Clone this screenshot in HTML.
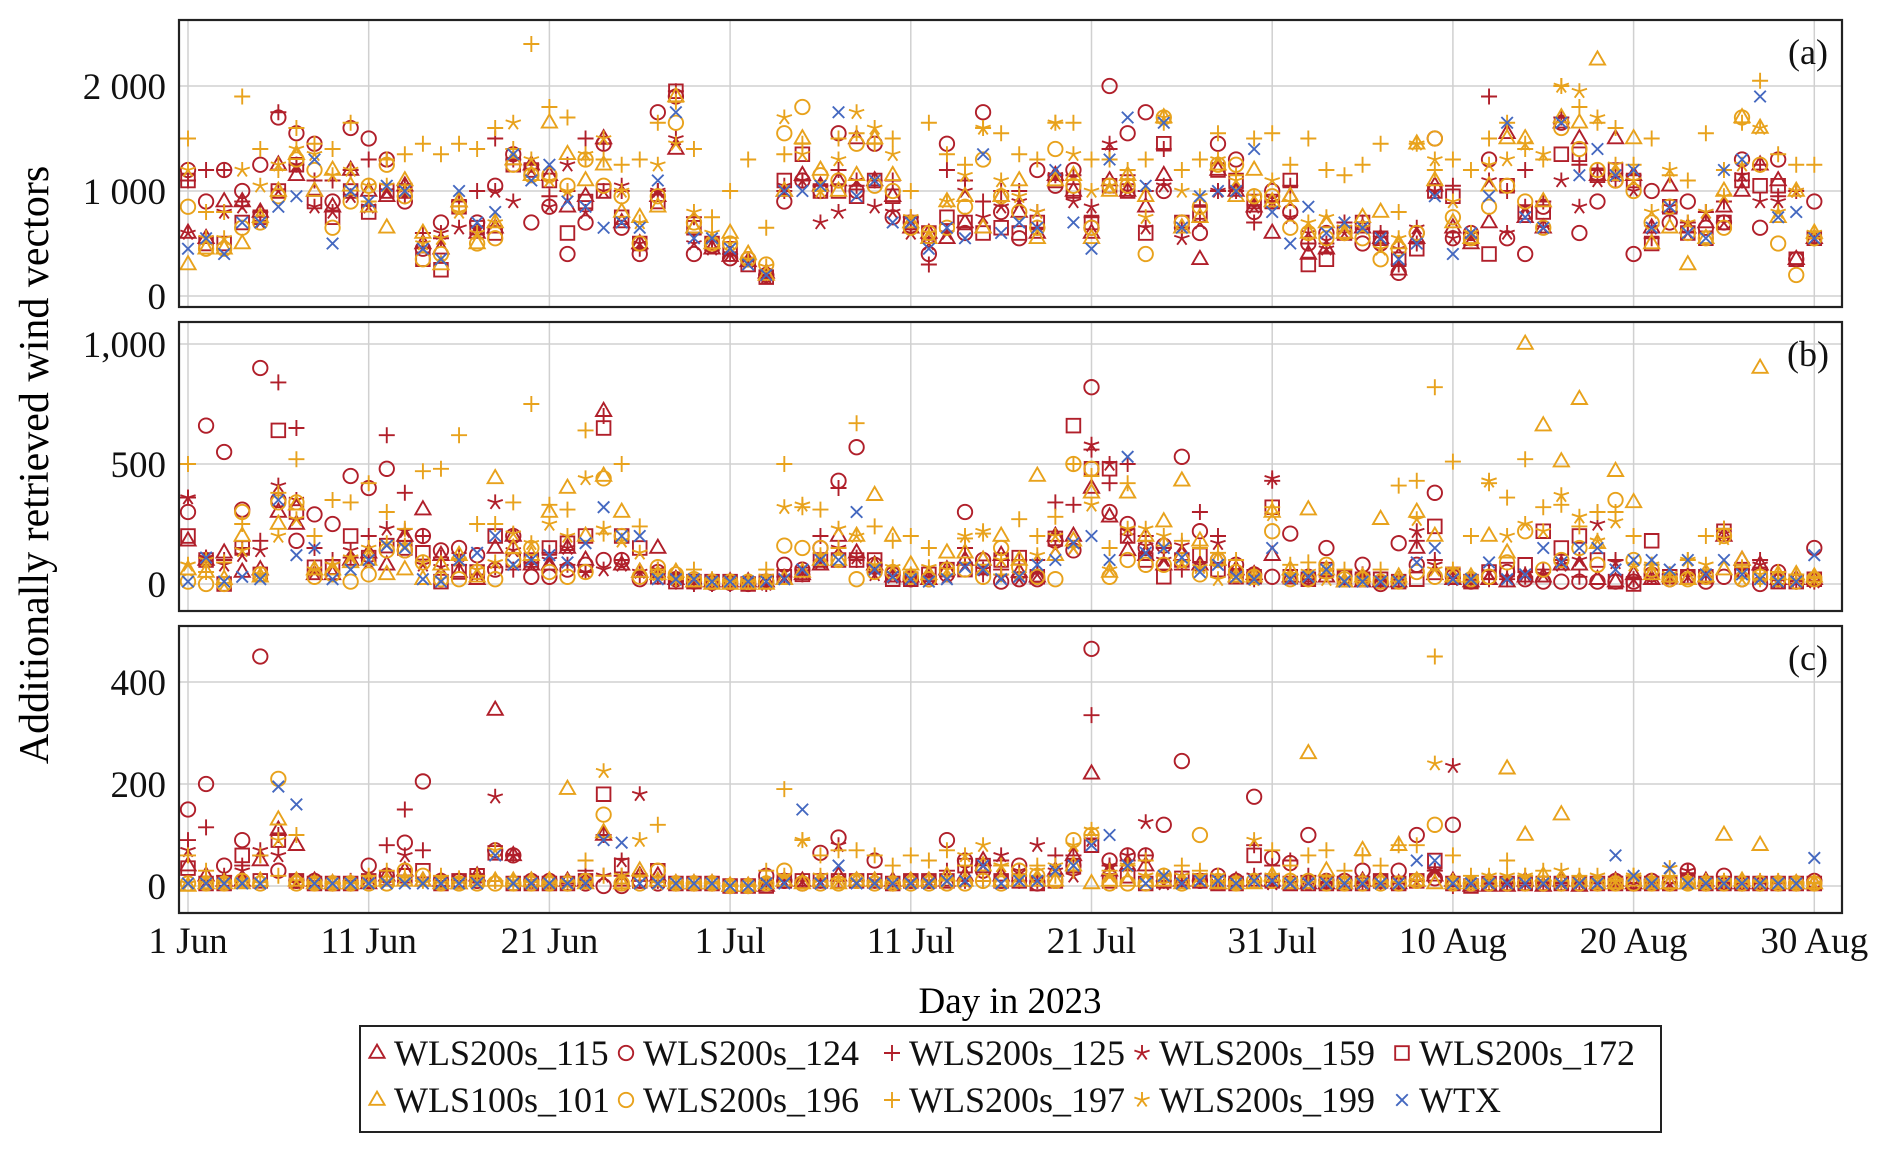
<!DOCTYPE html>
<html><head><meta charset="utf-8"><style>
html,body{margin:0;padding:0;background:#fff;}
svg{display:block;font-family:"Liberation Serif",serif;}
</style></head><body>
<svg id="chart" width="1892" height="1152" viewBox="0 0 1892 1152" xmlns="http://www.w3.org/2000/svg">
<g id="grid"></g><g id="marks"></g><g id="frames"></g><g id="labels"></g>
<text x="0" y="0" font-size="42" text-anchor="middle" transform="translate(48,465) rotate(-90)">Additionally retrieved wind vectors</text>
<text x="1010" y="1013" font-size="37" text-anchor="middle">Day in 2023</text>
<g id="legend"><rect x="360" y="1026" width="1301" height="106" fill="#fff" stroke="#222" stroke-width="2"/></g>
</svg>
<script>
const seriesNames=["WLS200s_115","WLS200s_124","WLS200s_125","WLS200s_159","WLS200s_172","WLS100s_101","WLS200s_196","WLS200s_197","WLS200s_199","WTX"];
const seriesColors=["#b01f2a","#b01f2a","#b01f2a","#b01f2a","#b01f2a","#e8a21c","#e8a21c","#e8a21c","#e8a21c","#4468c0"];
const seriesMarkers=["tri","circ","plus","star","sq","tri","circ","plus","star","x"];
const xTickDays=[0,10,20,30,40,50,60,70,80,90];
const xTickLabels=["1 Jun","11 Jun","21 Jun","1 Jul","11 Jul","21 Jul","31 Jul","10 Aug","20 Aug","30 Aug"];
const aTicks=[0,1000,2000];const aTickLabels=["0","1 000","2 000"];
const bTicks=[0,500,1000];const bTickLabels=["0","500","1,000"];
const cTicks=[0,200,400];const cTickLabels=["0","200","400"];
const a115=[600,550,900,900,800,1250,1150,1000,850,1200,1000,950,1050,500,450,900,600,650,1300,1250,1150,850,950,1500,700,500,950,1400,650,450,380,330,220,1000,1150,1050,1100,1500,1100,950,650,600,550,700,650,950,800,600,1150,1000,600,1100,1000,850,1150,650,350,1200,1000,850,600,950,400,450,600,650,550,250,550,1050,650,500,700,1550,750,650,1650,1500,1150,1500,1150,650,1050,650,700,850,1000,1250,1100,350,550];
const a124=[1200,900,1200,1000,1250,1700,1550,1450,900,1600,1500,1300,900,450,700,850,700,1050,1350,700,850,400,700,1450,650,400,1750,1900,400,480,360,350,200,900,1100,1000,1550,1000,1450,750,700,400,1450,600,1750,800,550,1200,1050,1200,650,2000,1550,1750,1000,700,600,1450,1300,800,1000,800,500,600,600,500,500,220,600,1500,550,600,1300,550,400,850,1650,600,900,1100,400,1000,700,900,650,700,1300,650,1300,350,900];
const a125=[1100,1200,1200,900,800,1750,1250,1100,1100,1200,1300,1300,950,600,550,900,1000,1500,1300,1250,950,1000,1500,1450,1000,450,1000,1950,750,520,400,350,200,1000,1100,1050,1200,1050,1100,1100,750,300,1200,1100,900,1000,1000,650,1150,1150,750,1400,1150,1000,1400,650,850,1000,1000,700,900,1050,500,500,700,700,600,300,500,1000,1050,600,1900,1000,1200,900,1700,1250,1200,1100,1150,550,800,700,800,900,1100,1250,950,1000,550];
const a159=[600,550,800,850,700,1000,1250,850,800,950,850,1000,1050,450,600,650,650,1000,900,1200,850,1250,800,1000,1050,500,1000,1500,500,450,400,320,180,1050,1100,700,800,1100,850,800,600,500,600,1000,750,850,900,800,1150,900,850,1450,1000,650,1050,550,700,1000,1000,850,900,750,600,450,600,650,550,450,650,1000,550,600,1100,600,850,650,1100,850,1100,1150,1000,650,850,600,800,700,1150,900,900,1000,550];
const a172=[1100,500,500,700,750,1000,1250,900,750,1000,800,1000,1000,350,250,850,650,600,1250,1200,1100,600,900,1000,750,500,900,1950,650,500,450,300,180,1100,1350,1000,1000,950,1100,950,700,600,750,700,600,650,600,700,1100,1000,700,1050,1000,600,1450,700,800,1200,1100,900,900,1100,300,350,600,700,550,350,450,1000,950,550,400,1050,800,800,1350,1350,1150,1200,1100,500,850,600,550,700,1100,1050,1050,350,550];
const a101=[300,450,450,500,750,1000,1350,1000,1200,1050,850,650,1100,600,300,900,500,700,1300,1150,1650,1350,1100,1250,800,750,850,1900,650,500,600,400,200,1000,1500,1200,1000,1150,1500,1150,700,550,900,950,650,950,1100,550,1100,1150,550,1000,1150,950,1700,650,750,1250,950,1200,900,950,600,700,600,750,800,500,1450,1100,700,550,1050,1500,1500,900,1700,1650,2250,1150,1500,500,650,300,550,1000,1700,1600,750,1000,600];
const a196=[850,450,450,650,700,950,1300,1200,650,900,1050,1250,950,350,400,850,500,550,1250,1150,1150,1050,1300,1050,950,500,950,1650,700,500,500,350,300,1550,1800,1150,1100,1450,1050,1000,650,600,650,850,1300,950,800,650,1400,1050,650,1050,1050,400,1700,700,850,1250,1250,950,950,650,600,550,600,550,350,450,600,1500,750,550,850,1050,900,650,1600,1400,1200,1100,1000,700,850,600,550,650,1700,1250,500,200,550];
const a197=[1500,800,800,1900,1400,1200,1600,1450,1400,1650,900,1300,1350,1450,1350,1450,1400,1600,1400,2400,1800,1700,1300,1300,1250,1300,1650,1850,1400,750,1000,1300,650,1350,1450,1000,1500,1550,1450,1500,1000,1650,1350,1250,1600,1550,1350,1300,1650,1650,1300,1300,1200,1300,1650,1200,1300,1550,1150,1500,1550,1250,1500,1200,1150,1250,1450,800,1450,1200,1300,1200,1500,1650,1400,1300,2000,1800,1650,1600,1250,1500,1150,1100,1550,1200,1650,2050,1350,1250,1250];
const a199=[1200,550,550,1200,1050,1250,1400,1350,1150,1200,1050,1050,1000,500,550,800,600,700,1650,1300,1100,1000,1350,1500,1000,700,1250,1450,800,600,500,350,280,1700,1350,1000,1300,1750,1600,1350,750,600,900,1150,1600,1100,950,800,1650,1350,1000,1050,1100,750,1700,1000,950,1300,1100,950,1100,900,700,750,650,650,450,550,1450,1300,900,600,1250,1300,1450,1350,2000,1950,1700,1250,1100,800,1200,700,800,950,1250,1600,800,1000,600];
const aWTX=[450,550,400,700,700,850,950,1300,500,1000,900,1050,1000,450,350,1000,700,800,1350,1100,1250,900,850,650,700,650,1100,1750,550,550,450,300,200,1000,1000,1050,1750,950,1100,700,700,450,650,550,1350,600,700,650,1200,700,450,1300,1700,1050,1650,650,950,1000,1000,1400,800,500,850,600,700,650,550,350,500,950,400,600,950,1650,750,650,1650,1150,1400,1150,1200,650,850,600,550,1200,1300,1900,750,800,550];
const b115=[180,100,130,50,60,300,250,40,40,100,130,80,200,310,120,50,20,150,200,80,80,150,100,720,80,50,150,20,10,10,10,10,10,20,40,80,200,130,80,30,30,20,60,100,100,120,50,30,200,200,400,280,140,120,80,120,80,100,60,40,120,30,30,30,10,10,10,10,150,40,20,10,20,10,30,30,80,80,20,10,40,20,30,20,30,200,100,80,20,20,20];
const b124=[300,660,550,310,900,350,180,290,250,450,400,480,140,200,140,150,120,60,200,30,30,60,80,100,100,20,50,20,10,5,5,0,10,80,60,150,430,570,80,40,20,20,40,300,100,10,20,20,180,140,820,300,250,150,160,530,220,100,80,40,30,210,30,150,30,80,0,170,80,380,30,10,30,50,20,10,10,10,10,10,10,40,20,30,10,30,20,0,50,10,150];
const b125=[360,110,100,150,180,840,650,150,100,110,200,620,380,200,110,80,40,70,60,90,130,80,50,700,100,30,30,10,0,0,0,0,0,30,40,200,400,100,50,50,20,30,40,150,40,60,100,100,340,330,560,420,500,200,150,60,300,200,50,20,430,40,20,40,20,40,10,20,180,100,30,20,20,20,30,60,100,30,300,100,20,30,40,40,30,230,60,100,20,10,10];
const b159=[360,110,80,120,140,410,350,50,80,140,90,230,220,80,70,120,60,340,140,80,100,150,50,60,80,50,60,20,10,10,10,0,0,30,50,90,150,110,40,30,20,30,30,80,60,30,20,40,150,150,580,500,200,160,100,160,80,170,60,30,440,40,30,50,20,30,10,20,220,80,20,10,50,30,40,40,80,100,250,90,20,30,30,30,40,210,60,80,10,10,10];
const b172=[200,100,0,150,40,640,300,70,70,200,110,160,150,130,10,50,50,200,100,100,150,170,200,650,200,150,30,10,10,10,10,0,10,30,40,100,100,100,100,20,20,40,60,60,70,100,110,30,190,660,480,480,200,100,30,100,120,60,30,30,320,30,20,60,30,20,20,10,20,240,40,10,50,60,80,220,150,200,100,10,0,180,30,30,30,220,60,40,10,10,20];
const b101=[60,50,20,200,30,250,330,60,60,90,100,40,60,20,80,120,30,440,150,120,300,400,200,450,300,50,40,50,10,0,0,0,0,20,50,100,100,200,370,200,80,40,130,130,100,200,100,450,120,180,380,50,380,200,260,430,180,100,30,30,300,60,310,60,10,30,270,30,300,200,30,30,200,130,1000,660,510,770,170,470,340,40,30,20,30,60,100,900,40,40,30];
const b196=[10,0,0,300,40,340,340,30,40,10,40,140,140,90,20,20,50,20,100,150,50,30,50,440,200,30,70,40,20,10,10,10,10,160,150,150,100,20,50,50,30,20,60,60,30,150,70,30,20,500,480,30,100,80,80,100,40,100,50,30,220,20,20,80,20,20,10,10,50,30,40,20,30,90,220,60,100,150,80,350,100,60,20,20,30,200,20,30,20,10,20];
const b197=[500,50,90,250,40,380,520,200,350,340,420,300,230,470,480,620,250,250,340,750,330,310,640,210,500,240,60,20,60,20,10,10,60,500,320,310,150,670,240,180,200,150,40,190,210,40,270,200,280,500,450,150,420,180,160,180,150,130,100,40,320,80,90,60,60,20,60,410,430,820,510,200,420,360,520,320,330,240,300,300,200,80,30,100,200,230,70,20,50,40,30];
const b199=[80,100,0,140,40,200,270,60,80,110,150,170,160,90,20,100,60,90,210,170,250,200,440,230,180,130,40,20,20,10,10,10,30,320,330,120,230,200,80,70,40,70,60,200,220,100,40,120,200,150,330,60,230,230,200,90,70,20,30,20,290,40,50,20,20,20,20,20,270,60,60,20,430,200,250,220,370,280,180,260,80,80,40,100,80,190,20,40,20,20,20];
const bWTX=[10,110,10,30,20,350,120,150,20,60,100,160,150,20,10,100,130,200,80,100,120,90,170,320,200,200,20,20,20,10,10,10,10,20,60,100,100,300,60,30,20,10,20,70,60,20,30,80,100,170,200,100,530,130,150,110,50,80,30,20,150,20,30,60,10,10,10,10,90,150,20,20,90,20,40,150,90,150,150,60,100,100,60,100,40,100,40,20,10,10,120];
const c115=[40,20,10,10,50,110,80,10,5,5,5,20,30,10,10,5,20,345,60,10,10,10,10,100,10,20,20,5,5,5,0,0,0,10,10,10,20,10,10,10,10,10,10,20,50,20,10,10,30,60,220,30,40,40,10,10,10,5,10,10,10,5,5,5,5,10,10,5,10,20,10,0,0,0,10,0,10,0,5,10,5,5,5,5,10,5,5,5,5,5,5];
const c124=[150,200,40,90,450,30,10,10,5,5,40,20,85,205,10,10,10,70,60,10,10,5,5,0,0,10,5,5,5,5,0,0,20,10,5,65,95,10,50,5,10,10,90,50,30,10,40,5,10,40,465,50,60,60,120,245,10,20,10,175,55,45,100,10,10,30,10,30,100,15,120,5,5,5,5,5,5,5,5,10,5,10,5,30,5,20,5,5,5,5,10];
const c125=[90,115,20,40,60,100,10,10,5,10,10,80,150,70,10,10,20,10,60,10,5,5,30,100,20,10,10,5,5,5,0,0,5,10,10,10,10,10,10,5,10,10,30,10,10,50,10,10,60,60,335,40,50,60,10,10,10,10,5,80,40,50,20,5,5,5,5,5,10,30,0,5,5,5,5,5,5,5,5,5,5,5,5,25,5,5,5,5,5,5,5];
const c159=[70,10,5,30,70,60,5,5,5,5,5,10,60,10,5,5,20,175,60,10,5,5,10,20,50,180,5,5,5,5,0,0,5,10,10,10,80,10,10,5,10,10,10,10,40,60,30,80,30,20,90,40,60,125,5,5,10,5,5,20,5,5,10,5,5,5,5,5,10,30,235,5,5,5,5,5,5,5,5,5,5,5,5,30,5,5,5,5,5,5,5];
const c172=[35,5,5,60,10,90,10,5,5,5,10,15,20,30,5,10,20,65,5,5,5,5,10,180,40,10,30,5,5,5,0,0,0,10,10,10,10,10,10,5,10,10,10,40,40,10,10,5,10,40,80,10,20,5,10,15,10,5,5,60,10,5,5,5,5,5,10,5,10,50,5,0,5,5,5,5,5,5,5,5,5,5,5,10,5,5,5,5,5,5,5];
const c101=[0,5,5,5,10,130,10,5,5,5,10,10,10,10,5,5,10,10,10,10,10,190,5,105,5,30,10,5,5,5,0,0,5,10,5,10,5,10,10,5,10,10,20,10,40,10,10,10,10,40,5,10,10,10,10,5,10,5,5,5,20,5,260,30,5,70,10,80,10,5,5,5,10,230,100,20,140,10,5,5,10,5,5,5,5,100,10,80,5,5,5];
const c196=[5,5,5,10,5,210,5,5,5,5,5,5,30,20,5,5,5,5,5,5,5,5,10,140,5,5,30,5,5,5,0,0,5,30,5,5,5,10,5,5,5,5,5,5,10,5,30,20,10,90,100,5,5,5,20,5,100,10,5,10,10,10,10,5,5,5,5,5,10,120,5,5,5,5,5,5,5,5,5,5,5,5,5,5,5,5,5,5,5,5,5];
const c197=[60,30,10,10,60,20,100,5,5,5,20,30,20,10,20,15,20,10,5,10,5,10,50,20,5,20,120,5,5,5,0,0,30,190,90,60,70,70,60,40,60,50,70,40,10,40,20,40,20,30,100,30,40,50,20,40,30,10,5,10,70,40,60,70,30,60,40,80,80,450,60,20,10,50,20,30,10,20,10,10,20,10,20,5,10,10,10,10,10,5,5];
const c199=[5,5,5,10,5,90,10,5,5,5,5,10,10,10,5,5,10,70,10,5,5,5,5,225,20,90,5,5,5,5,0,0,5,20,90,20,10,10,5,5,5,5,10,60,80,40,20,30,40,80,110,20,40,20,20,20,20,20,5,90,20,10,5,10,5,10,5,5,10,240,10,5,20,20,20,10,30,10,20,10,20,10,35,10,5,10,5,5,5,5,5];
const cWTX=[5,5,5,5,5,195,160,5,5,5,5,5,5,5,5,5,5,60,5,5,5,5,5,90,85,5,5,5,5,5,0,0,5,5,150,5,40,5,5,5,5,5,10,10,40,5,10,10,30,40,80,100,40,5,20,5,10,10,5,10,10,5,5,5,5,5,5,5,50,50,5,5,5,5,5,5,5,5,5,60,20,5,35,5,5,5,5,5,5,5,55];

const NS="http://www.w3.org/2000/svg";
const X0=179,X1=1842;
function xScale(d){return 188+d*18.07;}
const panels=[
 {id:"a",top:20,bot:307,zero:296,k:0.105,ticks:aTicks,labels:aTickLabels,data:[a115,a124,a125,a159,a172,a101,a196,a197,a199,aWTX]},
 {id:"b",top:322,bot:611,zero:584,k:0.24,ticks:bTicks,labels:bTickLabels,data:[b115,b124,b125,b159,b172,b101,b196,b197,b199,bWTX]},
 {id:"c",top:626,bot:913,zero:886,k:0.51,ticks:cTicks,labels:cTickLabels,data:[c115,c124,c125,c159,c172,c101,c196,c197,c199,cWTX]}
];
function mk(tag,attrs,parent){const e=document.createElementNS(NS,tag);for(const k in attrs)e.setAttribute(k,attrs[k]);parent.appendChild(e);return e;}
function marker(type,cx,cy,color,parent,r){
  r=r||8;const g=document.createElementNS(NS,"g");
  g.setAttribute("fill","none");g.setAttribute("stroke",color);g.setAttribute("stroke-width","1.9");
  let p="";
  if(type==="tri"){p=`M${cx},${cy-r*1.05} L${cx+r*0.95},${cy+r*0.6} L${cx-r*0.95},${cy+r*0.6} Z`;}
  else if(type==="sq"){p=`M${cx-r*0.85},${cy-r*0.85} h${r*1.7} v${r*1.7} h${-r*1.7} Z`;}
  else if(type==="plus"){p=`M${cx-r},${cy} H${cx+r} M${cx},${cy-r} V${cy+r}`;}
  else if(type==="x"){const s=r*0.72;p=`M${cx-s},${cy-s} L${cx+s},${cy+s} M${cx-s},${cy+s} L${cx+s},${cy-s}`;}
  else if(type==="star"){for(let i=0;i<5;i++){const a=-Math.PI/2+i*2*Math.PI/5;p+=`M${cx},${cy} L${cx+r*Math.cos(a)},${cy+r*Math.sin(a)} `;}}
  if(type==="circ"){const c=document.createElementNS(NS,"circle");c.setAttribute("cx",cx);c.setAttribute("cy",cy);c.setAttribute("r",r*0.9);g.appendChild(c);}
  else{const pa=document.createElementNS(NS,"path");pa.setAttribute("d",p);g.appendChild(pa);}
  parent.appendChild(g);return g;
}
const grid=document.getElementById("grid"),marks=document.getElementById("marks"),frames=document.getElementById("frames"),labels=document.getElementById("labels");
panels.forEach(P=>{
  xTickDays.forEach(d=>{
    const l=mk("line",{x1:xScale(d),x2:xScale(d),y1:P.top,y2:P.bot,stroke:"#d0d0d0","stroke-width":1.5},grid);
    
    
  });
  P.ticks.forEach((t,i)=>{
    const y=P.zero-t*P.k;
    const l=mk("line",{x1:X0,x2:X1,y1:y,y2:y,stroke:"#d0d0d0","stroke-width":1.5},grid);
    
    
    const tx=mk("text",{x:166,y:y+13,"font-size":37,"text-anchor":"end",fill:"#111"},labels);
    tx.textContent=P.labels[i];
    
    
  });
  const cg=mk("g",{"clip-path":"url(#clip-"+P.id+")"},marks);
  const defs=mk("clipPath",{id:"clip-"+P.id},marks);
  mk("rect",{x:X0,y:P.top,width:X1-X0,height:P.bot-P.top},defs);
  P.data.forEach((arr,s)=>{
    arr.forEach((v,d)=>{
      const m=marker(seriesMarkers[s],xScale(d),P.zero-v*P.k,seriesColors[s],cg);
      
      
    });
  });
  const fr=mk("rect",{x:X0,y:P.top,width:X1-X0,height:P.bot-P.top,fill:"none",stroke:"#222","stroke-width":2.2},frames);
  
  
  const pl=mk("text",{x:1808,y:P.top+44,"font-size":36,"text-anchor":"middle",fill:"#111"},labels);
  pl.textContent="("+P.id+")";
  
  
});
xTickDays.forEach((d,i)=>{
  const t=mk("text",{x:xScale(d),y:953,"font-size":37,"text-anchor":"middle",fill:"#111"},labels);
  t.textContent=xTickLabels[i];
  
  
});
const legend=document.getElementById("legend");
const legX=[377,626,892,1142,1402];
seriesNames.forEach((n,i)=>{
  const row=Math.floor(i/5),col=i%5;
  const cy=row?1100:1053;
  const g=mk("g",{},legend);
  
  
  marker(seriesMarkers[i],legX[col],cy,seriesColors[i],g,8);
  const t=mk("text",{x:legX[col]+17,y:cy+12,"font-size":36,fill:"#111"},g);
  t.textContent=n;
});
</script>
</body></html>
